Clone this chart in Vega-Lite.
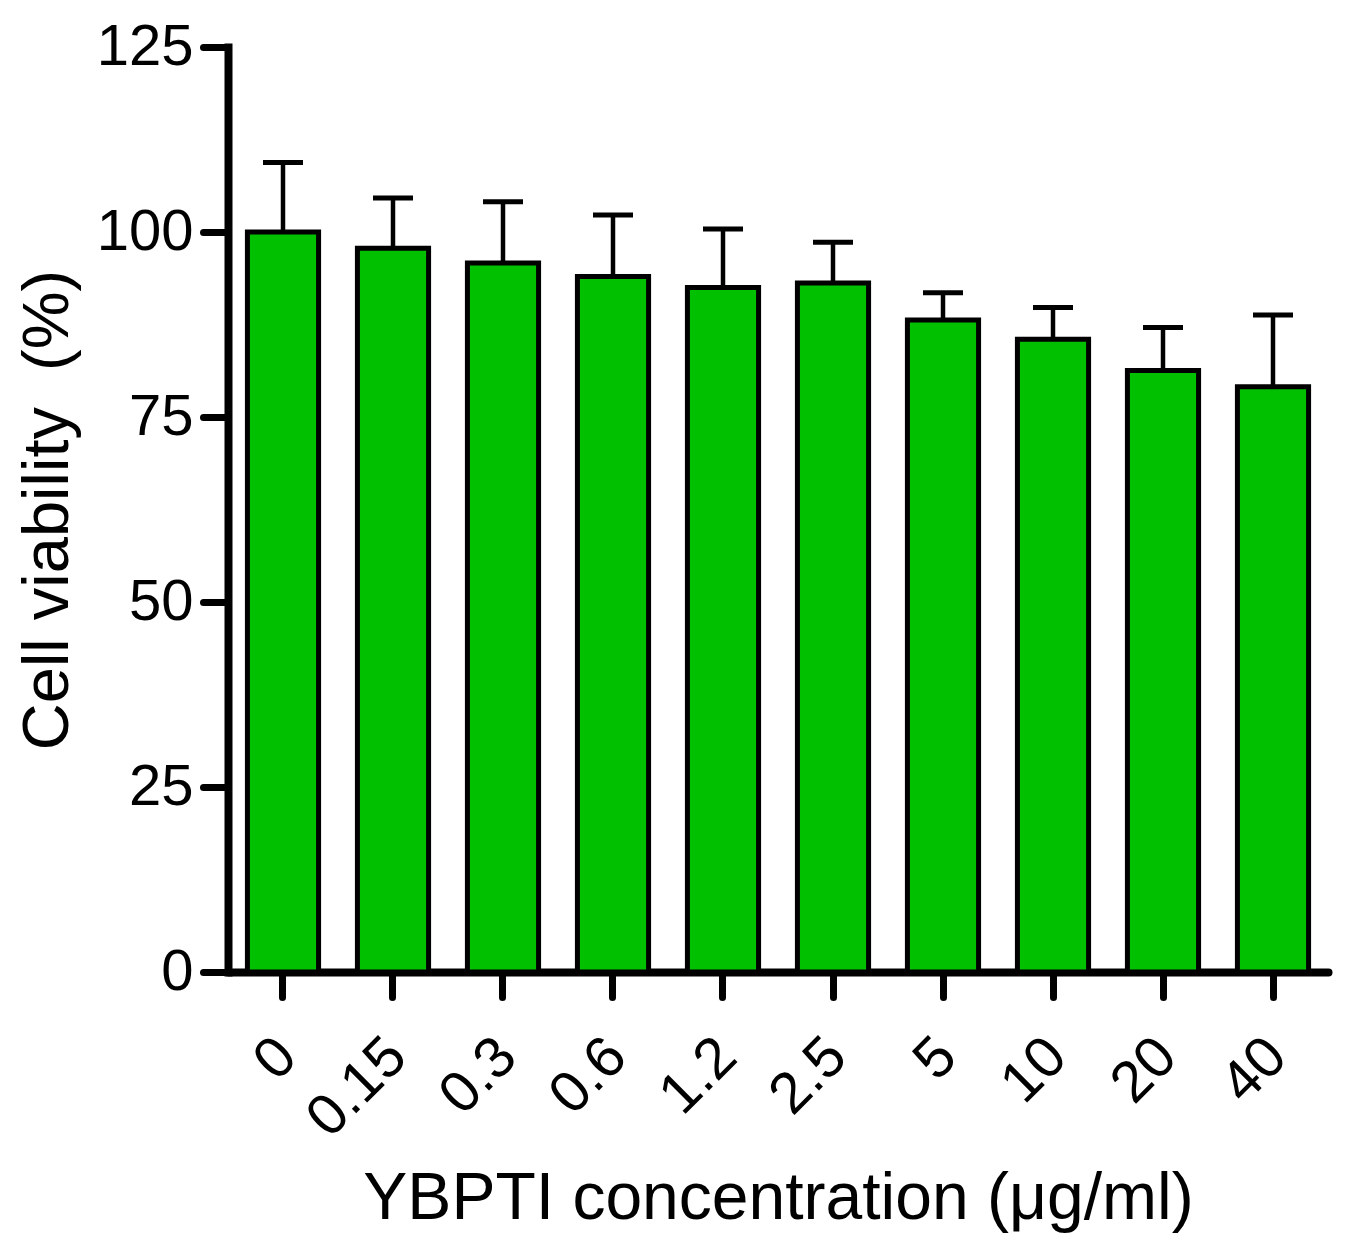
{
  "$schema": "https://vega.github.io/schema/vega-lite/v6.json",
  "description": "Cell viability vs YBPTI concentration",
  "width": 1100,
  "height": 925,
  "autosize": {"type": "none"},
  "padding": {"left": 228, "top": 47, "right": 17, "bottom": 269},
  "background": "white",
  "config": {"view": {"stroke": null}, "font": "Liberation Sans"},
  "data": {
    "values": [
      {"conc": "0", "mean": 100.0, "upper": 109.4},
      {"conc": "0.15", "mean": 97.8, "upper": 104.6},
      {"conc": "0.3", "mean": 95.8, "upper": 104.1},
      {"conc": "0.6", "mean": 94.0, "upper": 102.3},
      {"conc": "1.2", "mean": 92.5, "upper": 100.4},
      {"conc": "2.5", "mean": 93.1, "upper": 98.6},
      {"conc": "5", "mean": 88.1, "upper": 91.8},
      {"conc": "10", "mean": 85.5, "upper": 89.8},
      {"conc": "20", "mean": 81.3, "upper": 87.1},
      {"conc": "40", "mean": 79.1, "upper": 88.8}
    ]
  },
  "encoding": {
    "x": {
      "field": "conc",
      "type": "nominal",
      "sort": null,
      "scale": {"paddingInner": 0.353, "paddingOuter": 0.1765},
      "axis": {
        "title": "YBPTI concentration (μg/ml)",
        "labelAngle": -45,
        "labelAlign": "right",
        "labelBaseline": "top",
        "labelFontSize": 58,
        "labelPadding": 30,
        "labelOffset": -16,
        "labelColor": "black",
        "tickSize": 25,
        "tickWidth": 7,
        "tickCap": "round",
        "tickColor": "black",
        "domainWidth": 8,
        "domainColor": "black",
        "domainCap": "round",
        "titleFontSize": 66,
        "titleFontWeight": "normal",
        "titleColor": "black",
        "titleBaseline": "alphabetic",
        "titleY": 246
      }
    }
  },
  "layer": [
    {
      "mark": {"type": "bar", "fill": "#00C000", "stroke": "black", "strokeWidth": 5},
      "encoding": {
        "y": {
          "field": "mean",
          "type": "quantitative",
          "scale": {"domain": [0, 125], "nice": false},
          "axis": {
            "title": "Cell viability\u00a0\u00a0(%)",
            "values": [0, 25, 50, 75, 100, 125],
            "grid": false,
            "labelFontSize": 58,
            "labelPadding": 10,
            "labelColor": "black",
            "tickSize": 25,
            "tickWidth": 7,
            "tickCap": "round",
            "tickColor": "black",
            "domainWidth": 8,
            "domainColor": "black",
            "domainCap": "square",
            "titleFontSize": 65,
            "titleFontWeight": "normal",
            "titleColor": "black",
            "titleBaseline": "alphabetic",
            "titleX": -161
          }
        }
      }
    },
    {
      "mark": {"type": "rule", "color": "black", "opacity": 1, "strokeWidth": 4.5},
      "encoding": {
        "y": {"field": "mean", "type": "quantitative"},
        "y2": {"field": "upper"}
      }
    },
    {
      "mark": {"type": "tick", "color": "black", "opacity": 1, "size": 40, "thickness": 5, "orient": "horizontal"},
      "encoding": {
        "y": {"field": "upper", "type": "quantitative"}
      }
    }
  ]
}
